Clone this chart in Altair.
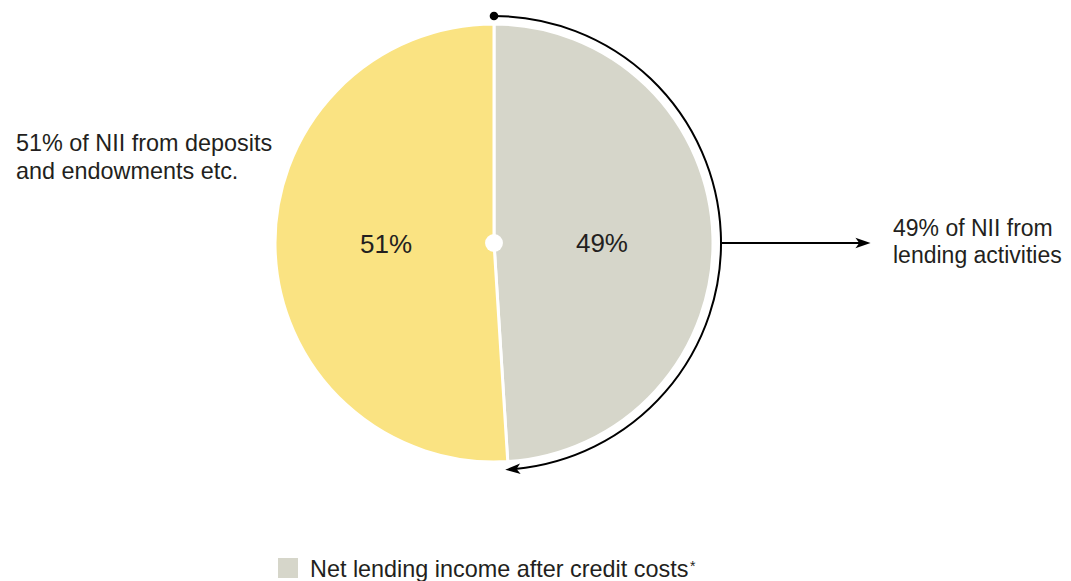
import math
import altair as alt
import pandas as pd

# data
categories = ["Net lending income after credit costs", "Deposits and endowments etc."]
values = [49, 51]
slice_labels = ["49%", "51%"]
colors = ["#D6D6CA", "#FAE382"]
left_note = ["51% of NII from deposits", "and endowments etc."]
right_note = ["49% of NII from", "lending activities"]
legend_label = "Net lending income after credit costs"

W, H = 1055, 573
CX, CY = 486, 235
R = 219
R_ARC = 227
FONT = "Liberation Sans"
TXT = "#231F20"
FS = 23.4

df = pd.DataFrame({"cat": categories, "val": values, "order": [0, 1], "lab": slice_labels})
color_scale = alt.Scale(domain=categories, range=colors)

pie = alt.Chart(df).mark_arc(stroke="white", strokeWidth=3).encode(
    theta=alt.Theta("val:Q", stack=True),
    order=alt.Order("order:Q"),
    color=alt.Color("cat:N", scale=color_scale, legend=None),
    x=alt.value(CX), y=alt.value(CY),
    radius=alt.value(R),
)

def slice_label(lab, dy):
    return alt.Chart(df).mark_text(fontSize=26, font=FONT, color=TXT, dy=dy).encode(
        theta=alt.Theta("val:Q", stack=True),
        order=alt.Order("order:Q"),
        text="lab:N",
        x=alt.value(CX), y=alt.value(CY),
        radius=alt.value(108),
        opacity=alt.condition(f"datum.lab == '{lab}'", alt.value(1), alt.value(0)),
    )

labels49 = slice_label(slice_labels[0], 4)
labels51 = slice_label(slice_labels[1], -1)

one = pd.DataFrame({"a": [0]})

center = alt.Chart(one).mark_circle(color="white", opacity=1, size=320).encode(
    x=alt.value(CX), y=alt.value(CY)
)

share = values[0] / sum(values)
end_theta = 2 * math.pi * share

outer = alt.Chart(one).mark_arc(
    filled=False, stroke="black", strokeWidth=2
).encode(
    x=alt.value(CX), y=alt.value(CY),
    theta=alt.value(0), theta2=alt.value(end_theta - 0.03),
    radius=alt.value(R_ARC), radius2=alt.value(R_ARC),
)

dot = alt.Chart(one).mark_circle(color="black", opacity=1, size=75).encode(
    x=alt.value(CX), y=alt.value(CY - R_ARC)
)

arrow_shape = "M 1 0 L -1 -0.7 L -0.5 0 L -1 0.7 Z"
ex = CX + R_ARC * math.sin(end_theta - 0.02)
ey = CY - R_ARC * math.cos(end_theta - 0.02)
ang = math.degrees(end_theta)
head1 = alt.Chart(one).mark_point(
    shape=arrow_shape, filled=True, color="black", opacity=1, size=230, angle=ang
).encode(x=alt.value(ex), y=alt.value(ey))

rule = alt.Chart(one).mark_rule(color="black", strokeWidth=2).encode(
    x=alt.value(CX + R_ARC + 1), x2=alt.value(856), y=alt.value(CY)
)
head2 = alt.Chart(one).mark_point(
    shape=arrow_shape, filled=True, color="black", opacity=1, size=230
).encode(x=alt.value(855), y=alt.value(CY))

left_txt = [
    alt.Chart(pd.DataFrame({"t": [t]})).mark_text(
        align="left", baseline="alphabetic", fontSize=FS, font=FONT, color=TXT
    ).encode(text="t:N", x=alt.value(8), y=alt.value(143 + 28 * i))
    for i, t in enumerate(left_note)
]
right_txt = [
    alt.Chart(pd.DataFrame({"t": [t]})).mark_text(
        align="left", baseline="alphabetic", fontSize=23, font=FONT, color=TXT
    ).encode(text="t:N", x=alt.value(885), y=alt.value(228 + 27 * i))
    for i, t in enumerate(right_note)
]

leg_sq = alt.Chart(pd.DataFrame({"cat": [categories[0]]})).mark_square(size=400, opacity=1).encode(
    x=alt.value(280), y=alt.value(560),
    color=alt.Color("cat:N", scale=color_scale, legend=None),
)
leg_txt = alt.Chart(pd.DataFrame({"t": [legend_label]})).mark_text(
    align="left", baseline="alphabetic", fontSize=FS, font=FONT, color=TXT
).encode(text="t:N", x=alt.value(302), y=alt.value(569))
leg_star = alt.Chart(pd.DataFrame({"t": ["*"]})).mark_text(
    align="left", baseline="top", fontSize=14, font=FONT, color=TXT
).encode(text="t:N", x=alt.value(682), y=alt.value(552))

chart = alt.layer(
    pie, center, labels49, labels51, outer, dot, head1, rule, head2,
    *left_txt, *right_txt, leg_sq, leg_txt, leg_star
).properties(
    width=W, height=H, autosize=alt.AutoSizeParams(type="none"), padding=0
).configure_view(stroke=None)

chart.save("out.html", embed_options={"renderer": "svg", "actions": False})
